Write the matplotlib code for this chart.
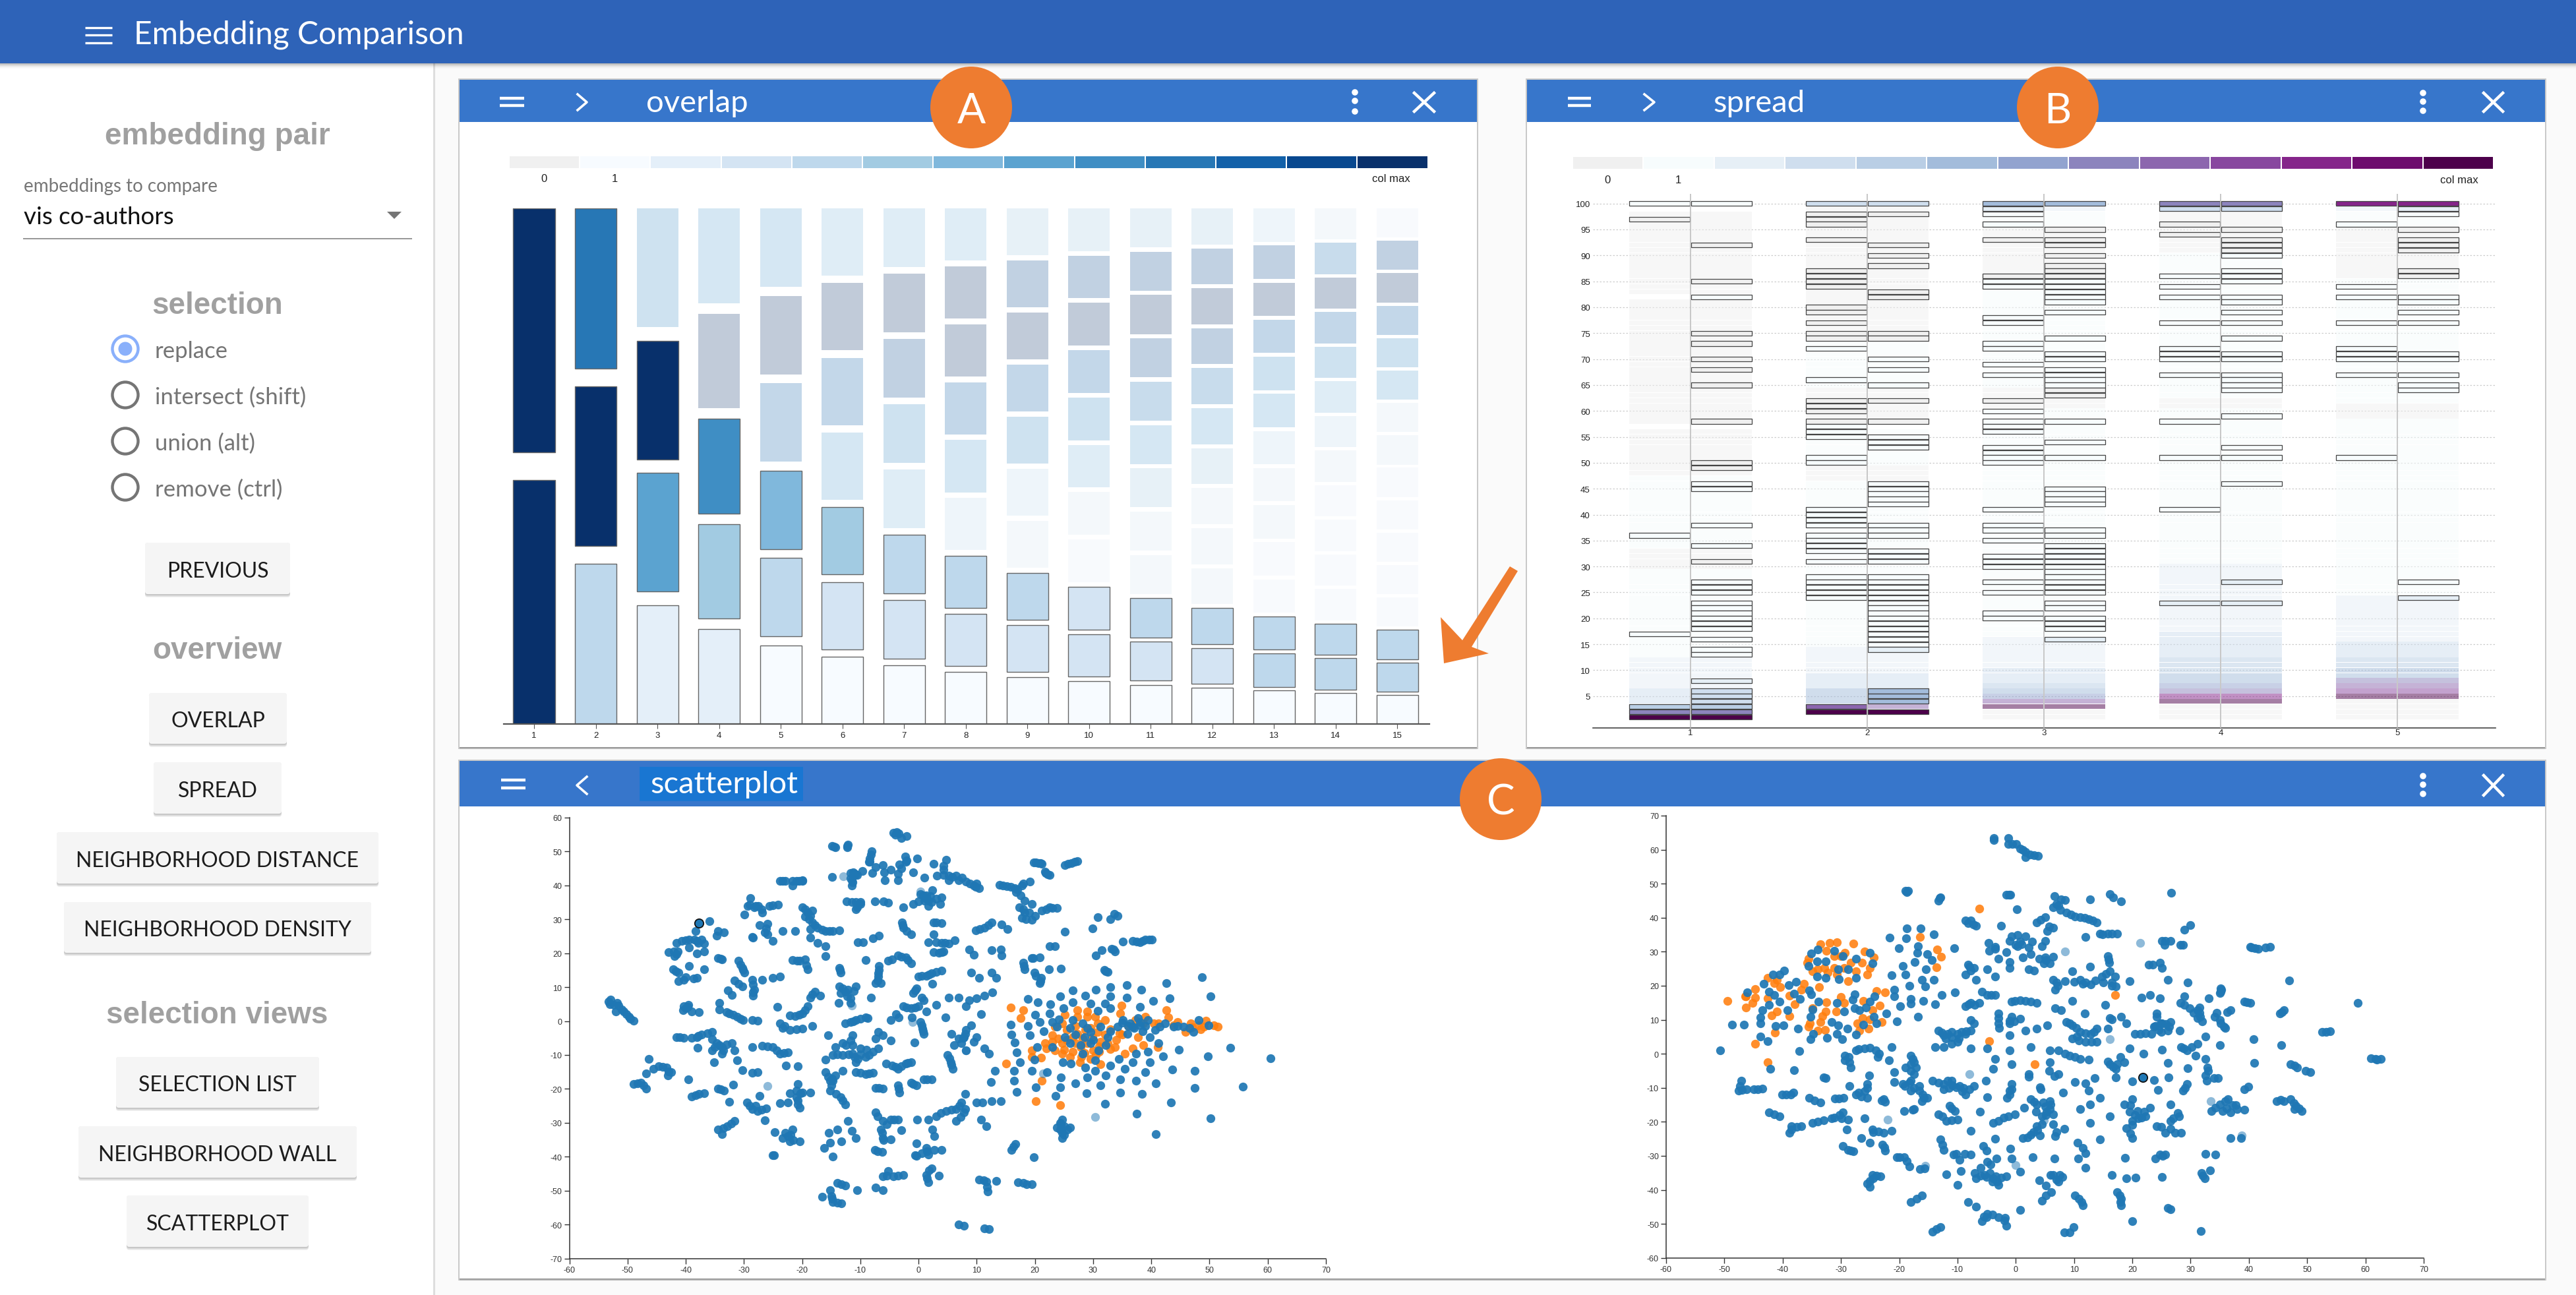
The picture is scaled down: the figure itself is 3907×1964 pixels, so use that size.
import matplotlib
matplotlib.use("Agg")
import matplotlib.pyplot as plt
from matplotlib.patches import Rectangle, Circle, Polygon, FancyBboxPatch

plt.rcParams['axes.unicode_minus'] = False

W, H = 3907, 1965
UI = 'Lato'
NUM = 'Liberation Sans'

# overlap panel: colour level per bin, bottom bin first, one list per column
overlap_cols = [1, 2, 3, 4, 5, 6, 7, 8, 9, 10, 11, 12, 13, 14, 15]
overlap_levels = [
    [12, 12],
    [4, 12, 9],
    [2, 7, 12, 8],
    [2, 5, 8, 12, 7],
    [1, 4, 6, 10, 12, 7],
    [1, 3, 5, 7, 10, 12, 6],
    [1, 3, 4, 6, 8, 11, 12, 6],
    [1, 3, 4, 4, 7, 10, 12, 12, 6],
    [1, 3, 4, 3, 4, 8, 10, 12, 11, 5],
    [1, 3, 3, 2, 3, 6, 8, 10, 12, 11, 5],
    [1, 3, 4, 3, 3, 5, 7, 9, 11, 12, 11, 5],
    [1, 3, 4, 3, 3, 3, 5, 7, 9, 11, 12, 11, 5],
    [1, 4, 4, 2, 2, 3, 3, 4, 7, 8, 10, 12, 11, 4],
    [1, 4, 4, 2, 2, 2, 2, 3, 4, 6, 8, 10, 12, 9, 3],
    [1, 4, 4, 2, 2, 2, 2, 2, 3, 3, 7, 8, 10, 12, 11, 2],
]
overlap_palette = ['#f0f0f0', '#f7fbff', '#e4eff9', '#d4e4f3', '#bed8ec', '#a2cbe2', '#80b8dc',
                   '#5ba3d0', '#3f8ec4', '#2777b5', '#1361a9', '#08488f', '#08306b']

# spread panel: (first rank, last rank, colour level) bands per column
spread_cols = [1, 2, 3, 4, 5]
spread_bands_1 = [(1, 1, 12), (2, 2, 7), (3, 3, 4), (4, 6, 3), (7, 12, 2), (13, 29, 1), (30, 33, 0), (34, 47, 1),
                  (48, 56, 0), (58, 81, 0), (83, 98, 0), (100, 100, 1)]
spread_bands_2 = [(2, 2, 12), (3, 3, 8), (4, 6, 5), (7, 9, 3), (10, 14, 2), (15, 46, 1), (47, 49, 0), (50, 56, 1),
                  (58, 64, 0), (65, 73, 1), (74, 99, 0), (100, 100, 3)]
spread_bands_3 = [(1, 2, 0), (3, 3, 12), (4, 4, 8), (5, 5, 6), (6, 6, 5), (7, 7, 4), (8, 10, 3), (11, 16, 2),
                  (17, 60, 1), (61, 64, 0), (65, 85, 1), (86, 95, 0), (96, 98, 1), (99, 99, 2), (100, 100, 5)]
spread_bands_4 = [(1, 3, 0), (4, 4, 12), (5, 5, 10), (6, 6, 7), (7, 7, 6), (8, 9, 5), (10, 12, 4), (13, 17, 3),
                  (18, 30, 2), (31, 60, 1), (61, 62, 0), (63, 90, 1), (91, 98, 0), (99, 99, 3), (100, 100, 7)]
spread_bands_5 = [(1, 4, 0), (5, 5, 12), (6, 6, 9), (7, 7, 8), (8, 8, 7), (9, 10, 5), (11, 12, 4), (13, 15, 3),
                  (16, 24, 2), (25, 58, 1), (59, 61, 0), (62, 85, 1), (86, 95, 0), (96, 98, 1), (99, 99, 2),
                  (100, 100, 10)]
# ranks holding selected points, left and right half of each column
spread_left_1 = [100, 97, 36, 17, 3, 2, 1]
spread_right_1 = [100, 92, 85, 82, 75, 73, 70, 68, 65, 58, 50, 49, 46, 45, 38, 34, 31, 27, 26, 25, 23, 22, 21, 20, 19,
                  18, 16, 14, 13, 8, 6, 5, 4, 3, 2, 1]
spread_left_2 = [100, 98, 97, 96, 93, 87, 86, 85, 84, 80, 79, 77, 75, 74, 72, 66, 62, 61, 60, 58, 57, 56, 55, 51, 50,
                 41, 40, 39, 38, 36, 35, 34, 33, 31, 28, 27, 26, 25, 24, 3, 2]
spread_right_2 = [100, 98, 92, 90, 88, 83, 82, 75, 74, 70, 68, 65, 62, 58, 55, 54, 53, 46, 45, 44, 43, 42, 38, 37, 36,
                  33, 32, 31, 28, 27, 26, 25, 24, 23, 22, 21, 20, 19, 18, 17, 16, 15, 14, 6, 5, 4, 2]
spread_left_3 = [100, 99, 98, 96, 93, 86, 85, 84, 78, 77, 73, 72, 69, 67, 62, 60, 58, 57, 56, 53, 52, 51, 50, 41, 38,
                 37, 35, 32, 31, 30, 27, 25, 21, 20]
spread_right_3 = [100, 95, 93, 92, 90, 88, 87, 86, 85, 84, 83, 82, 81, 79, 74, 71, 70, 68, 67, 66, 65, 64, 63, 58, 54,
                  51, 45, 44, 43, 42, 37, 36, 34, 33, 32, 31, 30, 29, 28, 27, 26, 25, 23, 22, 20, 19, 18, 16]
spread_left_4 = [100, 99, 96, 94, 86, 84, 82, 77, 72, 71, 70, 67, 58, 51, 41, 23]
spread_right_4 = [100, 99, 95, 93, 92, 91, 90, 87, 86, 85, 82, 81, 79, 77, 74, 71, 70, 67, 66, 65, 64, 59, 53, 51, 46,
                  27, 23]
spread_left_5 = [100, 96, 84, 82, 77, 72, 71, 70, 67, 51]
spread_right_5 = [100, 99, 98, 95, 93, 92, 91, 87, 86, 82, 81, 79, 77, 71, 70, 67, 65, 64, 27, 24]
spread_palette = ['#f0f0f0', '#f7fcfd', '#e6eff6', '#cfdeee', '#b9cee5', '#a3bcdb', '#92a3cf', '#8c84bd',
                  '#8c66ae', '#88479f', '#85258a', '#6e0c6e', '#4d004b']

# scatter left
left_blue_x = [-4.3, -3.7, -3, -2, -14.9, -14.5, -12.1, -12.3, -8.1, -8.4, -8.5, -2.3, -2, -.2, 2.6, 4.8, 4.3, 4.3, 19.8, 20.6, 21.2, 21.7, 22.5, 25.1, 26.3, 27.3,
               -14.9, -11.7, -11, -10.6, -11.7, -11.5, -9.6, -7.9, -7.4, -6.1, -5.9, -4.8, -3.3, -3, -3.5, -5.8, -3.5, -.9, -2.2,
               1, 3.2, 4.3, 5.2, 6.5, 5.2, 6.9, 8.2, 9.5, 10.4, 10, -23.8, -22.9, -21.7, -20.5, -19.9, -21.7,
               13.9, 15.2, 16.5, 17.8, 19.1, 16.7, 18.2, -28.9, -29.4, -28.2, -27.5, -26.9, -29.9, -25.6, -24.1,
               -12.4, -10.8, -10, -10.8, -10, -7.5, -6, -5.2, -2.6, -.9, 0, .3, 1.3, 2.4, 1.7, 1.7, 3.9, 3.7,
               17.3, 18.2, 19.5, 21.2, 22.5, 23.8, 17.8, 19.5, 30.8, 32.9, 33.6, 34.2, 29.9, 25.1,
               -19.9, -19.1, -18.2, -19.5, -18.2, -17.3, -16, -14.7, -13.6, -18.6,
               -35.9, -34.4, -33.4, -34.7, -38.3, -38.1, -39.4, -36.8, -37.3, -40.7, -41.6, -41.4, -42.9, -41.9, -39.4, -38.1, -36.8,
               -28.6, -26, -26.4, -27.3, -25, -23.4, -21.2, -18.6, -16, -17.3, -16, -34.4, -33.8, -30.9, -30.3, -29.9,
               -42.2, -41.2, -39.4, -36.8, -38.1, -40.3, -41.2, -21.7, -20.4, -19.5, -19.1, -13.6, -13.4,
               -9.1, -5.2, -3.5, -2.2, -1.3, -6.8, -6.9, -6.5, -7.4, -10.4, -9.5, -7.8, -6.8, -2.9, -2.6, -1.3,
               2.6, 3.9, 2.6, 1.7, 3.9, 5.2, 6.2, 3.5, 4.3, 2.6, 9.8, 11.3, 12.6, 14.3, 15.3, 8.7, 9.5, 12.6, 14.1, 14.3,
               22.5, 23.4, 19.5, 20.8, 18, 18.2, 22.4, 24.5, 19.9, 21.1, 20.8,
               30.5, 31.5, 33.2, 33.8, 35.1, 36.8, 38.1, 39, 40.1, 31.9, 32.5, 0, 1.3, 2.2, 3.9, 2.4, 9.1, 10.4, 12.6, 13.4,
               -31.6, -30.3, -28.6, -28.2, -28.4, -26.9, -25.1, -23.8, -32.8, -32.1, -34.2, -34.2,
               -13.6, -13.4, -12.1, -10.8, -11.7, -13.7, -8.2, -11.7, -18.6, -17.8, -16.9, -19.1, -19.9, -21.2, -22.1,
               -24.3, -28.6, -27.7, -30.1, -31.2, -32.5, -40.3, -39.6, -40.5, -39, -37.7,
               -53.3, -52.9, -51.6, -50.7, -49.8, -49, -52, -.4, -.9, .9, -2.6, -1.3, 0, 3, -3.9, -4.8, -1.1, 1.3,
               5.2, 6.9, 8.7, 10, 11.3, 12.7, 8.2, 4.6, 10.8, -8.7, -10.8, -12.6, -11.7, -9.1, .3, .7, .9,
               -23.8, -23.4, -22.1, -19.9, -18.2, -15.5, -41.6, -40.3, -38.1, -37.3, -35.5, -35.5, -38,
               -34.7, -33.8, -32.1, -31.6, -35.5, -33.8, -35.1, -31.2, -28.6, -26.9, -25, -23.8, -22.5, -22.8, -20.8, -30.3, -28.6, -27.7,
               -11.3, -11.7, -14.3, -13, -11.3, -7.4, -6.1, -4.8, -6.9, -14.7, -13, -11.3, -10.4, -9.1, -7.8, -6.9, -10.8, -16, -.7,
               5.6, 6.9, 8.2, 9.1, 7.8, 6.1, 7.4, 9.5, 10, 8.2, 11.3, 12.1, 5, 5.5, 5.9,
               -5.6, -3.5, -2.2, -1.3, -4.6, -16, -15.2, -14.3, -13, -10.8, -9.1, -7.8,
               -7.4, -6.1, -3.5, -3.3, -1.3, -.4, .9, 2.2, -20.8, -22.1, -19.9, -18.6, -20.8, -20.4, -23.8, -22.5,
               -15.2, -13.4, -12.6, -14.7, -46.4, -45.5, -44.6, -46.8, -43.3, -42.5, -43.1, -49, -47.7, -46.8,
               -39.6, -39, -37.7, -36.8, -34.4, -33.4, -31.8, -32.5, -27.3, -29.5, -28.6, -27.7, -26.2, -26.4,
               -34.4, -32.9, -31.6, -33.8, -24.7, -23.4, -21.7, -22.1, -20.4, -25.1,
               -15.4, -13.9, -12.1, -11.5, -10.8, -15.2, -16.2, -14.7, -13.3,
               -7.4, -6.1, -4.8, -3.5, -6.5, -6.1, -4.8, -3,
               -.2, 1.7, 3, 4.8, 6.5, 7.4, 6.5, 7.8, 10, 12.6, 14.1, 8, 10.8, 11.7, 2.4, 2.7,
               -.3, 1.3, 1.7, 3.9, -.3, -7.5, -6.2, 16, 16.6, 19.8,
               -6.1, -4.3, -2.6, -5.2, 1.3, 1.7, 2.2, 3.5, -7.4, -6.1,
               -13.9, -12.6, -15.2, -14.7, -16.5, -13.3, -10.6, 10.4, 11.7, 11.9, 13.4, 17.1, 18.6, 19.5,
               6.9, 7.8, 11.3, 12.1,
               13.1, 12.5, 16.4, 16.4, 16.9, 20.2, 23.6, 24.4, 24.5, 22.1, 19.5, 26.9, 28.9, 29, 31.2, 32.2, 32, 34.6, 34.6, 35.4,
               37.4, 38.4, 40.8, 39, 39.7, 43.6, 42, 44.7, 47.4, 47.4, 49.7, 53.6, 55.7, 60.5, 50.2, 43.4, 37.5, 40.8,
               24.3, 24.7, 23.8, 26, 24.7, 24.7, 25.6,
               48.7, 42.6, 50.2, 43.2, 40.3, 38.3, 35.8, 32.9, 30.5, 26.5, 24.3, 20.5, 18.8, 22.7, 26.5, 28.6, 29.5, 32.9, 35.8, 38.1,
               32.1, 32.9, 30.8, 24.9, 22.5, 20, 15.8, 18.8, 20.8, 23, 24.1, 16, 19.1, 16.5, 20.4, 16.9, 17.4, 19.9, 21.5,
               35.1, 36.4, 37.7, 38.1, 39.4, 40.7, 42.4, 43.8, 45.5, 47.2, 48.1, 49.8,
               23.8, 25.1, 26.5, 28.2, 29.5, 29.5, 31.2, 32.5, 34.2, 35.9, 36.8, 32.2, 30.9, 27.9, 26, 23, 24.8, 26.2, 28.6, 30.3,
               32.9, 34.4, 36.8, 37.4, 39.4, 39.7, 41.2, 30.3, 28.2]
left_blue_y = [55.4, 55.6, 54, 54.6, 51.7, 51.4, 52, 51.3, 50, 47.9, 46.9, 48.4, 47.4, 47.9, 46.3, 47.6, 45.7, 44.7, 46.8, 46.6, 46.4, 44, 43, 46, 46.6, 47.2,
               42.5, 43.6, 43.5, 43, 42, 40, 44.3, 43.6, 45.4, 45.9, 43.9, 44.6, 46.1, 44.9, 43.5, 41.5, 41.5, 43.9, 46.9,
               42.2, 42.8, 43, 42.8, 42.8, 41.5, 41.5, 41.2, 40, 39.2, 40.5, 41.3, 41.3, 41.3, 41.3, 41.5, 40,
               40.2, 39.7, 39.2, 40, 41.2, 38, 35.5, 36.2, 34, 33.6, 34, 32, 31.3, 34, 34.4,
               35.2, 35, 35, 33, 34.5, 35.3, 35.2, 34.8, 33.5, 34.5, 35.2, 37.5, 37, 38.5, 35.5, 34, 36.5, 34.5,
               33.5, 32, 34.5, 32.5, 33.5, 33.3, 30.5, 29.8, 30.6, 30.1, 31.5, 31, 27.4, 26.4,
               33.5, 32, 32.5, 30.9, 29, 27.6, 26.6, 26.6, 26.8, 27.1,
               29.4, 26.6, 26.1, 25.1, 26.6, 23.6, 24.1, 22.9, 24.1, 23.6, 23.1, 20.6, 20.4, 19.2, 21.6, 19.9, 20.6,
               24.8, 28.6, 26.1, 28.3, 23.6, 26.6, 26.6, 24.6, 19.1, 23.1, 22.1, 18.5, 18.2, 17.7, 15.7, 14.2,
               15.2, 14.2, 16.2, 15.2, 12.7, 12.2, 11.7, 18, 17.7, 18.2, 15.2, 15.7, 14.2,
               18, 17.7, 19.3, 18.7, 17, 16.2, 13.2, 11.2, 11.2, 23.3, 23.3, 24.4, 25.1, 29.1, 27.6, 25.6,
               29.1, 28.8, 25.6, 23.3, 23.1, 22.8, 23.8, 20.1, 20.6, 20.3, 26.8, 27.6, 29.1, 28.4, 27.1, 21.1, 19.6, 20.8, 21.1, 19.4,
               22.1, 22.1, 18.5, 18.7, 17.2, 15.2, 15.2, 15.5, 14.2, 12.7, 11.2,
               19.3, 20.9, 21.3, 20.6, 23.4, 23.6, 23.3, 24.1, 24.1, 15, 14.5, 13.2, 13.4, 14, 14.9, 11, 14.2, 12.7, 14.2, 12.7,
               11.9, 10.2, 12.2, 9.2, 7.5, 12.2, 12.7, 13.2, 9, 7.7, 5.3, 3.5,
               10.2, 8.2, 9.2, 10.2, 6.7, 5.3, 6.9, 5.3, 6.9, 8.7, 7.5, 4.3, 2.3, 1.5, 1.6,
               4.1, .3, .1, .3, 1.3, 2.3, 4.3, 4.8, 3.3, 2.8, 2.6,
               5.8, 6.3, 4.5, 2.8, 1.3, .1, 2.8, 9.7, 8.2, 6.2, 4.3, 3.8, 4.3, 4.8, 2, .3, 1.1, 2.8,
               6.9, 6.9, 6.2, 6.7, 7.4, 8.5, 4.3, 1.1, 2.1, .8, .3, -.7, -.2, 1.1, -.2, -2.2, -3.7,
               -.7, -2, -2.7, -2.2, -1.4, -4.2, -4.7, -5, -4.7, -3.9, -3.2, -5.4, -7.8,
               -6.6, -7.6, -6.6, -8.6, -8.6, -9.6, -12.1, -11.6, -7.6, -7.3, -7.6, -9.6, -9.3, -13.1, -13.3, -14.4, -15.3, -15.1,
               -4.2, -5.7, -7.6, -6.6, -7.1, -5.2, -4.2, -5.7, -3.2, -10.1, -10.1, -9.6, -11.1, -10.6, -9.1, -8.1, -12.1, -11.4, -6.3,
               -3.7, -5.2, -2.7, -1.2, -4.7, -7.1, -6.6, -6.2, -4.7, -8.6, -8.1, -9.6, -10.1, -12.1, -14.1,
               -12.6, -14.1, -12.6, -12.1, -13.1, -15.1, -17.6, -16.1, -14.6, -15.1, -15.6, -15.3,
               -19.7, -20, -19, -21, -18.1, -19, -17.1, -17.1, -18.6, -21.2, -21, -21, -23.5, -25.5, -24.2, -24,
               -20.5, -22.5, -24.5, -17.6, -11.1, -14.1, -13.4, -15.4, -13.6, -15.1, -16.1, -18.6, -18.1, -20,
               -17.1, -22.2, -21.5, -21.2, -20, -20.5, -18.8, -23.8, -22, -24, -26, -26.5, -25.8, -29.2,
               -31.9, -31, -29.5, -33.4, -32.7, -34.4, -31.9, -35.4, -35.4, -39.6,
               -32.9, -31.9, -29.5, -32.4, -34.4, -35.9, -37.4, -39.9, -35.4,
               -27, -29.5, -29, -29, -31.9, -34.4, -34.9, -32.1,
               -29, -29, -28, -26.5, -26, -24, -29.5, -27, -24, -23.7, -23.7, -21.5, -29, -31, -31.9, -33.9,
               -36.1, -37.4, -39.4, -37.9, -39.7, -37.9, -38.6, -37.9, -36.2, -40.1,
               -45.8, -45.8, -45.3, -44.3, -45.3, -47.5, -43.4, -45.6, -49, -49.8,
               -47.8, -48.5, -49.8, -53.3, -51.8, -53.8, -49.8, -46.8, -47.3, -50.3, -47.1, -47.5, -48, -48.1,
               -59.9, -60.4, -61.2, -61.4,
               -14.6, -17.9, -14.6, -17.6, -20.9, -19.6, -22.1, -19.6, -16.6, -15.1, -14.6, -18.3, -21.2, -16.6, -19, -16.1, -24.3, -21, -17.2, -14.1,
               -17.6, -21.4, -18.3, -15.1, -12.1, -14.3, -10.4, -8.4, -14.7, -19.7, -10.4, -7.8, -19.3, -11, -28.7, -24, -27.3, -33.4,
               -30, -29, -31.4, -31.4, -32.9, -34.4, -31.9,
               13, 11.2, 7.2, 6.7, 6, 9.2, 10.6, 10, 9.2, 9.1, 7.2, 5.5, 6.5, 5, 5.5, 7.4, 5.2, 7.2, 6.9, 4.2,
               5.2, 3.7, 3, 3.7, 2.3, 1.8, -1, -1.5, -.2, -.2, .5, -3.9, -4.2, -6.3, -7.6, -9.3, -12.1, -11.3, -3.1,
               .3, -.7, .8, -1.2, .3, -2.7, -.7, -1.7, -1.7, -3.2, .3, -1.2,
               -1.7, -4.7, .3, -.7, -3.2, -6.6, -1.7, -4.7, -1.7, -3.7, -1.7, -7.1, -8.6, -7.1, -6.6, -7.6, -12.1, -12.6, -13.6, -14.6,
               -13.1, -11.1, -12.1, -9.6, -9.1, -4.7, -6.6, -11.6, -9.6]
# second reading along the dense chains of the left plot
left_chain_x = [-52.4, -51, -50.2, -49.5, -53, -51.8, -14.3, -12.2, -4, -3.4, -8.2, -8.4, 20.2, 21, 21.9, 22.2, 25.7, 26.8,
                -11.3, -11.5, -10.8, -11.2, 5.8, 7.5, 8.8, 9.8, -23.4, -21, -20, 14.5, 15.8, 17, 17.5, 18, -29, -28, -27, -25,
                -11.5, -10.4, -10.6, .8, 1, 1.4, 2, 2.2, 3, 18, 19, 20, 22, 23, 18.5, -19.5, -18.6, -18.8, -17.8, -16.6, -15.3,
                -38.5, -37.8, -40, -42, -41.6, -26.2, -26, -28.4, -34, -30.6, -30.1, -41.7, -40, -38.7, -20.9, -19.3,
                -13.5, -6.8, -6.9, -7, -3, -4.5, -1.8, -2.7, -2, 3, 3, 4.5, 3.9, 10.5, 12, 19.7, 18.1, 21, 20.2,
                33.5, 37.5, 38.5, 39.6, 32.2, .6, 1.8, 3, -30.9, -28.4, -28.4, -13, -12.6, -12.2, -11.1, -18.2, -19.5, -20.5,
                -40, -39.7, -30.6, -31.8, -33, -.6, .6, -2, -.6, -3.4, -10, -11.2, .5, .8, -23, -21,
                -41, -39, -37.8, -36.3, -34.2, -33, -35, -33.5, -26, -24.4, -23.1,
                -14, -12, -10, -8.5, -11, -10, -12.5, -9, 5.3, 5.7, 7.7, 8, -4, -3, -1.8, -15.5, -14.8, -10, -8.5,
                -6.8, -3.4, -.9, 1.5, -21, -20.3, -21, -20.7, -14.2, -13, -15, -47.3, -48.3, -44, -42.9,
                -38.3, -34, -28, -27, -29, -33.6, -32.2, -22.9, -22, -21.5, -22.5, -24.8, -7, -5.5, -6.3, -4.2, -6,
                3.8, 5.6, 7, 8, 7.2, 11, 1.5, 2.7, .5, -.6, -7, -5.5, -3.5, 1.5, 1.8, 16.3,
                11.2, 11.8, 18, -13.3, -15, -14.8, -14, 24.5, 25, 24.3, 25,
                35, 36, 37, 38, 39, 41.5, 44.5, 46.5, 26, 27, 28.5, 30, 29, 33, 38.5]
left_chain_y = [4.8, 3.5, 2, .7, 5, 5.3, 51.2, 51.7, 55, 55.2, 49, 47, 46.7, 46.5, 43.7, 43.3, 46.3, 46.9,
                41, 41.5, 43.3, 43.8, 42.5, 42.2, 40.6, 39.6, 41.3, 41.3, 41.4, 40, 39.5, 38.8, 37, 40.5, 34.3, 34, 33, 34.1,
                35, 34.3, 33.6, 37, 35.5, 36, 36.8, 35, 36, 33, 32, 31, 33, 33.4, 30, 33, 31, 30, 28.3, 27, 26.6,
                24, 23, 23.8, 20.5, 19.8, 27.3, 25.5, 24.6, 18.3, 16.7, 15, 14.7, 13, 12.6, 17.8, 16.5,
                15, 15, 14, 12, 19, 18.2, 18, 28.3, 26.5, 29, 23.3, 23, 20.4, 27.2, 28.3, 18.6, 16.2, 11.8, 13.4,
                21, 23.4, 23.7, 24.1, 14.7, 13.3, 13.7, 14.4, 11, 8.5, 10.7, 9.7, 8.7, 7.2, 8.8, 7.8, 3.2, 1.9,
                3.7, 4.1, .7, 1.8, 2.6, 9, 7, 4, 4, 1.1, .6, -.1, -1.2, -3, -1.4, -2.5,
                -4.8, -4.9, -4.3, -3.6, -7.1, -6.9, -7.6, -8.6, -7.5, -8.6, -9.5,
                -9.8, -9.9, -9.9, -10, -10.5, -8, -7, -8.5, -11, -13, -5, -3.7, -13.5, -13.4, -12.4, -16.5, -17, -15.3, -15.5,
                -19.8, -20, -18.5, -17.1, -20.5, -21.2, -22.5, -24.5, -21.5, -23.5, -19, -19, -18.4, -13.5, -14.8,
                -21.8, -20.2, -25, -26.2, -25, -31.5, -30.3, -33, -33.5, -35, -34, -39.6, -28, -30.5, -33, -29, -35,
                -27.2, -26.2, -25, -26, -28.3, -24, -38.3, -38, -39, -39.5, -38.3, -45.5, -45.5, -46.3, -44, -37,
                -47, -48.8, -47.8, -48.1, -51.5, -52.3, -53.6, -30.5, -31, -32, -33.5,
                -.5, -1.5, -2, -.3, -1.5, -1.7, -1.5, -2, -2, -4, -4.8, -5.5, -2, -3, -3]
left_orange_x = [15.9, 18, 17.5, 15, 21.2, 20.1, 24.4, 19.5, 19.5, 21.1, 21.7, 23, 23.4, 24.7, 25.1, 27.3, 27.3, 29, 29, 30.3, 32, 34.6, 34.9, 37.3, 39,
                 42.6, 42.9, 41.2, 43.8, 45.9, 46.8, 49.4, 49, 51.4, 50.7, 48.1, 41.1, 38.6, 36.8, 35.4, 31.2, 27.7, 29.5, 23.4, 24.7, 26,
                 26.9, 28.2, 29.9, 31.2, 32.5, 33.8, 25.5, 27.3, 28.6, 30.8, 23, 24.7, 37.7, 40.4, 38.6, 30.8, 26.5, 27.9, 30,
                 22, 24, 25, 26.5, 28, 29, 30.5, 31, 32, 33, 34, 35, 25.5, 27, 28.5, 29.5, 31, 33, 44.5, 47, 48.5, 36, 34.5]
left_orange_y = [3.9, 3.3, .8, -12.6, -17.5, -23.6, -24.8, -8.6, -10.6, -10.8, -6.6, -4.1, -1.7, -.7, 1.8, 3.3, 1.3, 2.8, 1.3, 1.3, .3, 2.3, 4.5, .3, 1.3,
                 3.3, 1.1, -.7, -1.2, -3.2, -.7, .1, -1.7, -1.7, -1.2, -1.2, -7.6, -7.1, -8.1, -9.6, -12.8, -12.1, -11.1, -8.6, -9.6, -10.6,
                 -6.6, -5.2, -4.7, -6.2, -6.6, -7.6, -2.7, -3.7, -2.7, -3.2, -6.2, -6.6, -4.7, -.7, -.7, -.7, -4.7, -7.6, -8.6,
                 -8, -5.2, -8.5, -9, -10.5, -6.5, -10, -9, -4, -8.2, -5.5, -4, -5.5, -1.5, -9.5, -2, -7.4, -2.4, -.2, -1.8, -2.4, -1.5, -3.6]
left_faint_x = [-26, 30.3, 8.2, -1, .3, -12.9, 21.4, -11.5, 4.1]
left_faint_y = [-19.2, -28.2, -8.6, -.2, 38.2, 42.6, -15.5, 4.5, 20.3]
left_marked = [-37.7, 28.8]

# scatter right
right_blue_x = [-3.8, -1.3, -1.3, .1, .8, 1.7, 1.7, 3.1, 3.8, -18.9, -18.5, -12.9, -13.3, -1.6, -.9, .2, 6.6, 7.8, 8.4, 12.8, 16.2, 16.7, 18.1, 26.7,
                6.4, 7.3, 8.7, 11.1, 12.5, 13.9, 5, 3.6, 6.4, 5.4, -8.6, -7.7, -6.8, -2.5,
                -18.7, -16.3, -14.1, -21.6, -18.8, -20.1, -16.8, -16.9, -15.2, -14.4, -10.6, -19.4, -17.3, -15.4, -21.3, -18.9, -16.1, -14.1, -18.2, -15.5, -20.8, -20.8, -18, -15.9, -19.8, -18, -13.8, -12.7, -10.5, -16.8, -20.4,
                -46.1, -48.7, -46.7, -43.8, -43.8, -41.2, -39.9, -42.6, -43.8, -50.7, -37.2, -42.1, -38, -43.5, -42.4, -40.5, -39.2, -37, -37.4, -35.2, -34.8, -32.4, -29.8, -30.7, -27.4, -28.9, -26.2, -23.9, -22.2, -24.4, -26.9, -27.6, -29.4, -31.6, -30.5, -33.9, -34.9, -35.2, -30.7, -28, -27.6, -25, -25.7, -24.3, -42.4, -41.5, -38, -39, -37.7, -40.5, -41.7, -39.7, -43.3, -35.4, -35.1,
                -35.1, -34, -34.1, -32.6, -31.1, -29.7, -27.4, -25, -24.6, -35.6, -34.1, -32.6, -30.5, -28.8, -27.4, -30.4,
                -4.7, -4.6, -3.5, -3, -1.6, -1.1, -1.1, -.7, .3, 1.7, .3, 2.2, 1.2, 2.6, 4, 5, 6.4, 4.5, 5, 5.9, 4.8, -1.1, 2.2, 3.1,
                -8.2, -7.2, -8.6, -6.8, -4.9, -3.5, 12, 14.4, 15.8, 17.4, 25.1, 26.5, 28.2, 22.8, 24.7, 25.1, 28.9, 30, 40.2, 41.6, 43.6, 46.9, 58.7, 52.6, 53.9, 62.7, 61.7, 61,
                45.3, 46, 45.6, 40.8, 40.9, 47.2, 48.3, 50.5, 39.2, 40.2,
                26.1, 29.5, 35.3, 35, 33.1, 28.9, 31.2, 34.1, 36.9, 35, 35.9, 31.7, 29.8, 31.2,
                25.1, 26.5, 23.7, 21.4, 23.3, 26.1, 24.2, 19, 20.4, 18.1, 16.5, 28.1, 28.4, 29.4, 31.2, 32.6, 35, 32.6, 29.5, 26.1, 21.9, 19.5, 25.1,
                9.7, 8.7, 11.1, 12.9, 13.9, 9.7, 12, 13.9, 15.8, 7.8, 6.7, 9.7, 15.3, 16.2, 11.8,
                6.7, 6.4, 8.4, 11.1, 12.9, 14.8, 16.2, 17.2, 19.5, 12.8, 9.7, 15.8, 16, 21.6, 23.1, 24.7,
                .8, 2.6, 3.6, -.7, -3.5, -4.9, -5.8, -7.7, -8.6, -6.3, -3, -3, -7.7, -7.2, -1.1, -.7, .8, 1.7, -1.1, 3.6, 5.4,
                -13.3, -12.4, -11, -8.6, -7.7, -12.4, -10, -13.8, -7.7, -4.9, -1.1, -3.5, -3.9, -.7,
                2.6, 5.9, 9.2, 11.1, 5.9, 7.3, 12.5, 16.2, 18.6, 17.2, 2.2, 4.1, 13.5, 17.2, 20, 23.7, 24.4, 26.2,
                32.9, 32.6, 34.7, 29.4, 28.7, 10.1, 12, 8.1, 12.5, 39.2, 39.9, 44.8, 47.2, 48.1, 49.1,
                36.4, 35, 33.6, 36.9, 39.2, 37.8,
                -29.3, -29.3, -28.3, -27.4, -25, -23.5, -21.3, -21.8, -20.8, -25.2, -33, -32.6,
                -47.1, -47.6, -46.2, -44.3, -40.1, -38.6, -35.4, -33.5, -30.4, -28.5, -27.4, -25.5, -25.5, -22.7, -20.8,
                -18, -17.5, -18.9, -17.1, -18, -19.4, -18, -16.6, -15.2, -19.1, -17.5, -16.1,
                -14.3, -12.4, -11, -12.4, -9.6, -8.6, -7.2, -5.1, -4.9, -.7, -1.1, 2.6, 3.6, 5.9, 5.9, 6.4, 4.5, 1.4,
                11.1, 12.7, 14.4, 16.2, 12.8, 18.6, 20, 20, 22.3, 20.9, 19, 20, 23.1, 26.5, 28, 26.5, 24.2, 25.6, 28.4, 36.9, 38.7,
                -3.9, -2.1, -.2, -11.4, -10.5, -13.3, -11.9, -10, -7.7, -6.1,
                -34.9, -33, -29.7, -31.1, -28.8, -26, -38.5, -36.8, -40.5, -42.4, -29, -38.8,
                -24.6, -22.7, -21.3, -26.5, -22.9, -22.4, -29.7, -27.9, -28.8, -25,
                -20.4, -19.1, -18.3, -15.7, -11.9, -12.9, -12.4, -10.7, -9.6, -9.4, -7.7, -5.6,
                -3.5, -.9, 2.9, 6.6, 10.7, 12, 6.4, 7.5, -5.3, -3.9, -3, -1.6, .8, -6.8, -10, -4.9, -3.3, -.7,
                4, 6.1, 4.5, 7.3, 10.1, 11.5, 16.5, 19, 20.6, 25.1, 31.9, 32.4, 33.3, 32.5, 34.2, 25.6, 24.7, 24, 18.7,
                17.4, 18.1, 18.1, 26.1, 26.5, 20, 31.8, 8.3, 9.2, 9.9, -4.9, -5.8, -3, -1.6, .8, -8.2, -6.8,
                -14.3, -12.9, -16.1, -18, -25, -25.5, -24.6, -23.2, 10.6, 11.5, 12, 14.4,
                6.4, 8.3, 6.8, 3.6, 2.6, 1.2, 4.5]
right_blue_y = [63.4, 63.4, 61.6, 61.6, 60.4, 59.4, 57.7, 58.4, 58.2, 48, 48, 46, 45, 46.8, 46.8, 42.4, 46.3, 45.3, 45.1, 45.3, 47, 46, 44.8, 47.3,
                43.1, 43.6, 41.6, 40.1, 39.6, 38.6, 40.1, 38.6, 37.1, 36.1, 39.1, 39.1, 37.6, 37.6,
                36.9, 36.8, 35.1, 34.2, 33.9, 31, 31.7, 29.7, 29.2, 27.5, 31, 25.9, 27, 24.8, 23, 23.3, 21.8, 21.8, 20, 19.8, 18.8, 16.8, 16.1, 15.6, 13.9, 14.8, 14.5, 17.3, 18.1, 10.9, 9.6,
                18, 8.6, 8.5, 10.7, 8.9, 8.1, 8.4, 3.7, 5, 1, .8, -4.5, -4.8, 12.9, 14.4, 15.3, 12.9, 16.2, 7.4, 4.2, 5.9, 4.7, 4.2, 5.9, 5.7, 7.4, 8.5, 8.9, 11.9, 10.9, 12.9, 13.4, 12.4, 9.4, 8.4, 15.3, 13, 10.9, 14.9, 15.9, 17.5, 15.3, 13.5, 16.8, 18.2, 17.2, 17.7, 20.2, 21.2, 23.2, 23.2, 24.5, 20.6, 18.7, 17.5,
                29.5, 30.7, 27.2, 27.2, 30.2, 28.7, 27.9, 29.7, 26.5, 25.9, 22.8, 22.3, 24.8, 24.8, 22.3, 22,
                32.6, 30.3, 30.8, 27.9, 29.9, 26.9, 33.1, 34.5, 35, 34.5, 31.6, 31.2, 28.4, 29.3, 27.9, 28.4, 28.6, 31.7, 33.1, 26.5, 26.5, 25.2, 24.9, 24.5,
                26.2, 25.2, 23.2, 21.8, 24.8, 22.8, 34.4, 35.4, 35.4, 35.4, 33.2, 33.2, 32, 26.2, 26.7, 25.2, 36.4, 37.8, 31.5, 30.9, 31.5, 21.6, 14.9, 6.4, 6.7, -1.5, -1.5, -1.3,
                11.9, 12.9, 2.5, 4.2, -2.7, -3, -4, -5.4, 15.3, 14.9,
                21.8, 21, 18.8, 17.8, 16.3, 16.8, 12.9, 10.9, 12.9, 9.9, 7.6, 10.9, 13.4, 10.4,
                8.9, 9.4, 7.9, 5.9, 5.9, 6.9, 11.9, 8.9, 5.9, 10.9, 10.2, 6.9, 2, 1, 3, 5, 2.5, -1.5, -4.2, -2.7, 0, 1.5, 1.2,
                8.4, 9.4, 6.4, 5.9, 7.4, 4.5, 3.5, 3.5, 7.4, 12.9, 13.4, 15.6, 14.4, 10.4, 11.9,
                18.8, 21.8, 21.3, 21.8, 20.3, 22.8, 24.3, 19.8, 21.3, 25.7, 24.3, 28.7, 26.7, 16.6, 17.3, 16.3,
                15.8, 15.3, 14.9, 15.3, 17.3, 17.3, 18.3, 14.9, 13.9, 14.9, 11.9, 8.9, 9.9, 8.9, 8.9, 10.8, 10.3, 6.9, 5.4, 7.4, 8.4,
                6.9, 5.4, 6.4, 5.9, 6.9, 2, 3.5, 2, 1.5, 1.5, 1, -1.5, -4.5, -3,
                2, 1, -.5, -1.5, -2.5, -5.9, -1.8, -3, -2.5, -4.5, -5.9, -9.9, -7.1, -6.9, -8.1, -7.7, -10.7, -6.9,
                -4, -6.4, -7.1, -8.9, -10.9, -8.4, -8.6, -11.4, -10.9, -10.4, -9.7, -13.9, -13.4, -15.3, -16.8,
                -13.4, -14.9, -16.8, -17.3, -16.5, -15,
                -.5, -2, -4, 1, 1.8, 0, 2, -2, -5.4, -6.4, -6.9, -7.1,
                -7.9, -10.9, -10.4, -10.4, -11.9, -11.9, -12.9, -14.4, -13.1, -9.4, -11.9, -8.9, -12.9, -13.4, -8.4,
                -.5, -2.5, -4, -4, -7.9, -8.9, -10.9, -10.9, -12.9, -16.8, -16.3, -13.9,
                -7.9, -8.9, -7.9, -10.4, -9.4, -11.9, -9.4, -7.9, -12.7, -8.9, -11.9, -13.4, -14.9, -13.9, -16.3, -17.8, -18.3, -15.8,
                -16.3, -14.9, -12.9, -18.3, -20.3, -14.9, -13.4, -19.8, -18.3, -16.8, -21.8, -24.8, -15.8, -14.9, -18.3, -19.8, -21.3, -23.3, -23.3, -24.8, -24.8,
                -20.3, -18.8, -17.8, -15.3, -16.8, -17.8, -19.8, -19.3, -22.6, -17,
                -20.3, -19.6, -17.3, -18.8, -19.3, -19, -21.3, -21.3, -18.3, -17.3, -22.3, -23.3,
                -22.3, -23.3, -22.6, -24.8, -26.7, -28.5, -27.2, -28.7, -28.2, -26.2,
                -30.4, -30.4, -33.2, -33.7, -35.4, -25.2, -28.2, -29.7, -31.2, -34.5, -29.7, -27.2,
                -25, -27.9, -30.4, -30.7, -30.7, -33.5, -35.6, -35.6, -35.6, -36.6, -38.6, -36.1, -34.7, -36.6, -38.6, -31.7, -30.7, -30.7,
                -37.1, -40.6, -43.1, -37.6, -41.6, -44.6, -35.6, -36.6, -36.4, -36.3, -35.1, -36.6, -34.2, -29.5, -29.7, -29.7, -29.7, -30.7, -30.5,
                -40.6, -42.6, -44.6, -45.3, -45.7, -49.3, -52.1, -52.5, -52.5, -51, -47, -49.3, -48, -50.5, -46, -43.6, -45,
                -52.3, -51, -41.6, -43.6, -39.1, -38.1, -35.6, -36.1, -26.2, -27.7, -29.2, -25.2,
                -20.8, -22, -24.2, -21.3, -23.8, -24.8, -20.8]
# second reading along the dense chains of the right plot
right_chain_x = [-3.8, -.6, 1.2, 2.5, -18.7, -13.1, -1.2, 7, 9.5, 10.2, 11.8, 13.2, 7.7, 4.3, 5.7, -8.2, -7.3,
                 14.9, 16.5, 25.7, 25.5, 28.7, 23.5, 41, 42.8, 40.5, 62, 53.2, 45.7, 47.8, 49.8, 39.7,
                 31.5, 31.5, 32, 34.5, 35.2, 35.7, 30.5, 36.3, 35.2, 35.1, 28.2, 28.9,
                 24.8, 25.8, 24.5, 25, 22.3, 24.2, 24, 26.3, 28.8, 30.2, 30.8,
                 9.2, 10.4, 12, 13.4, 10.8, 13, 10.5, 7.2, 7, 12, 13.6, 15.5, 15.9, 15, 16.5, 17, 16.5, 11.5, 10,
                 -.1, 1.7, -4.2, -8.1, -7, -3, -2.9, -1, -.3, -12.7, -11.7, -10, -9.3, -11, -12, -9.8, -11, -8.5,
                 10.1, 7.3, 8.5, 15.8, 17.4, 18, 16.7, 5.7, 6.6, 2.2, 4.3, -.7, -1, -1.5,
                 33, 32.8, 34, 29, 45.5, 46, 47.7, 47.8, 48.6, 36, 34.3, 36.2, 37.2, 35.5, 38,
                 -28.7, -28.5, -27, -26, -24, -23.7, -47.3, -47, -45, -43.5, -39.4, -38.2, -34.5, -31, -29.6,
                 -27, -26, -25.5, -26.5, -23, -22.4, -17.7, -18, -18, -17.5, -18.2, -17.5, -19, -16.5, -16, -15.8, -17.7,
                 -13.3, -11.7, -10.2, -9, -9.2, -8, -11.5, -10.9, 3.1, 4.7, 5, 6, 5.3, 5.2, 3.5,
                 19.7, 19.5, 20.5, 21, 21.6, 20, 19.7, 22, 27, 27.8, 25, 26.5, 27.4, -3, -1.3, -11, -12.6, -11,
                 -34, -31.6, -30.3, -29.9, -37.6, -41.5, -38.5, -23.6, -24.5, -22.5, -28.3, -20, -18.7, -16.4, -12.6, -10.2, -8.8, -5,
                 -5, -4.5, -3.4, -4, -3.2, -2.5, -6, -4.3, -6, -7, 5.2, 5.2, 6, 7, 8, 10.8, 11.3, 17.8, 18,
                 25.2, 32.1, -24.5, -25, -23.9, -17, -5, -4, -2, -5.5, -1.8, -13.6,
                 7, 3, 3.7, 4.2, 2, .8, 0, 1, 2.8, -3.5, 5.2, -7.7, -8]
right_chain_y = [62.8, 61.6, 60, 58.5, 47.5, 45.7, 46.8, 44, 41, 40.4, 39.9, 39.2, 42.3, 39.4, 37.5, 38.5, 38,
                 35.2, 35.4, 33.1, 32, 32, 26.2, 31, 31.2, 31.2, -1.8, 6.5, 12.3, -3.5, -5, 15.1,
                 12, 13.5, 9.5, 12, 9, 8, 12, 12.2, 19.3, 18.2, 15, 14.4,
                 9, 8.7, 7, 6.5, 6, 10.8, 8.2, 7.9, 1.5, 2, -.5,
                 9, 7.5, 6, 6.5, 4, 3.5, 5, 20, 21, 21, 21.5, 23.5, 27.7, 21, 21, 22.8, 20, 20.5, 21.2,
                 15.6, 15.5, 17.3, 14.5, 14.4, 10.5, 7.6, 9.8, 9.5, 6.2, 5.9, 5.9, 6.5, 4.8, 4.5, 4.4, 3, 6.7,
                 -.9, 1, 0, -2.3, -3, -1, -3.8, -5, -6.6, -6.7, -10.5, -10.5, -10.9, -13,
                 -5, -8, -7.1, -10, -13.6, -14, -14.5, -16.2, -16, -14, -15.8, -16, -15, -16.8, -16.2,
                 -1, -2.5, 1.3, 1.6, 1, -1, -9.4, -10.7, -10.4, -10.3, -12, -11.5, -13.7, -13.1, -13,
                 -11.5, -11, -10, -12.5, -13.8, -14.2, -1.5, -3, -5, -6, -8.5, -10, -9.5, -9.5, -12, -13, -16.4,
                 -8.5, -8, -9.8, -10, -11, -10.5, -10, -9.2, -14.2, -14.4, -15.5, -14.8, -17, -18, -17,
                 -15, -17, -18, -19, -18.8, -21, -23.5, -17, -19, -17.5, -21.5, -22, -23.2, -19.7, -18.4, -16, -18.3, -19.5,
                 -20, -18.9, -18, -19, -21.4, -17.8, -22.3, -22.9, -23, -27.5, -28.5, -30.4, -31.5, -33.9, -26.7, -29.5, -29.5, -28.5,
                 -36.3, -35, -36, -37.6, -37.6, -36.4, -35.9, -32.5, -33.5, -35, -38.8, -41.6, -35.7, -37, -36.2, -42.6, -43.5, -41.6, -43.5,
                 -30, -35.8, -36.6, -37.4, -35.8, -42.6, -48, -47.2, -49, -47.8, -48.2, -51.6,
                 -23, -23, -22.5, -24, -24.5, 33, 32, 32.2, 33, 31.5, 27.5, 24.5, 25.7]
right_orange_x = [-49.5, -44.7, -46.3, -44.7, -45.2, -42.6, -41.9, -41, -38.8, -41.3, -44.7, -42.6, -46.3, -46.4, -38.8, -37.9, -36.8, -36.4, -33.8, -41.4, -42.6, -41, -40.4,
                  -32.5, -32.6, -30, -30.8, -29.5, -33.2, -35.6, -35.3, -33.5, -34, -32.7, -27.2, -26.3, -25, -24.6, -23.3, -23.9, -22.4, -23, -26.9, -25.3, -26.2, -34.9,
                  -6.3, -16.4, -13.5, -12.8, -13.6, 17.1, -4.6, 3.3,
                  -35.6, -33.5, -31.9, -30.7, -27.9, -26, -24.4, -31.1, -32.5, -30, -28.3, -26.4, -25, -25.5, -28.8, -30.7, -32.3, -34, -34.9, -31.1, -32.8, -35.8, -27.4, -29.5, -29.3]
right_orange_y = [15.6, 19.1, 16.8, 16.6, 14.9, 16.3, 11.2, 12.4, 11.1, 6.2, 3, -2.5, 13.5, 16.8, 17.1, 14.6, 18.8, 20.6, 19.6, 20.8, 22.3, 21.8, 19.6,
                  15.2, 12.4, 16.7, 12.4, 14.9, 11.1, 7.9, 8.9, 9.4, 6.9, 7.1, 8.9, 10.4, 10.1, 12.9, 14.1, 18.4, 18.1, 9.4, 6.9, 7.4, 15.6, 13.4,
                  42.6, 34.3, 30.7, 28.5, 25.5, 17.3, 3.8, -3.1,
                  27.9, 32.2, 32.5, 32.7, 32.4, 30, 28.3, 28.7, 30.2, 28.7, 26.7, 26.7, 25.2, 23.2, 21.3, 23.2, 23.8, 24.8, 24.3, 25.2, 25.2, 26.7, 24.2, 25.2, 29.7]
right_faint_x = [21.4, 0, 33.5, 4.8, -22, -15.5, 8.5, -8, 38.8, 16.2]
right_faint_y = [32.5, -32.8, -14, -19.5, -19.3, -33, 30, -6, -24, 4.2]
right_marked = [21.8, -7]

sidebar_modes = ['replace', 'intersect (shift)', 'union (alt)', 'remove (ctrl)']
sidebar_buttons = ['PREVIOUS', 'OVERLAP', 'SPREAD', 'NEIGHBORHOOD DISTANCE', 'NEIGHBORHOOD DENSITY',
                   'SELECTION LIST', 'NEIGHBORHOOD WALL', 'SCATTERPLOT']


def px_axes(x0, y0, x1, y1):
    a = fig.add_axes([x0 / W, 1 - y1 / H, (x1 - x0) / W, (y1 - y0) / H])
    a.patch.set_visible(False)
    return a


def rect(a, x0, y0, x1, y1, color, alpha=1, z=1):
    a.add_patch(Rectangle((x0, y0), x1 - x0, y1 - y0, facecolor=color, edgecolor='none', alpha=alpha, zorder=z))


def shadow_below(a, x0, y, x1, n=7, z=2):
    for i in range(n):
        rect(a, x0, y + i, x1, y + i + 1, '#000000', alpha=0.28 * (1 - i / n) ** 2, z=z)


def button(a, x0, y0, x1, y1, label):
    for i in range(6):
        a.add_patch(FancyBboxPatch((x0, y0 + i), x1 - x0, y1 - y0, boxstyle='round,pad=0,rounding_size=4',
                                   facecolor='#000000', edgecolor='none', alpha=0.05, zorder=3))
    a.add_patch(FancyBboxPatch((x0, y0), x1 - x0, y1 - y0, boxstyle='round,pad=0,rounding_size=4',
                               facecolor='#f5f5f5', edgecolor='none', zorder=4))
    a.text((x0 + x1) / 2, (y0 + y1) / 2 + 4, label, family=UI, fontsize=23, color='#1c1c1c', ha='center', va='center', zorder=5)


def menu_icon(a, x0, x1, ys, lw=3.2, z=6):
    for y in ys:
        a.plot([x0, x1], [y, y], color='white', lw=lw, solid_capstyle='butt', zorder=z)


def kebab_x(a, kx, ys, x0, x1, y0, y1):
    for y in ys:
        a.add_patch(Circle((kx, y), 4.8, facecolor='white', edgecolor='none', zorder=6))
    a.plot([x0, x1], [y0, y1], color='white', lw=3.2, zorder=6)
    a.plot([x0, x1], [y1, y0], color='white', lw=3.2, zorder=6)


fig = plt.figure(figsize=(W / 100, H / 100), dpi=100, facecolor='white')
bg = fig.add_axes([0, 0, 1, 1], zorder=0)
bg.set_xlim(0, W)
bg.set_ylim(H, 0)
bg.axis('off')

# page, side bar and top bar
rect(bg, 658, 0, W, H, '#fafafa', z=0)
rect(bg, 657, 0, 660, H, '#dedede', z=1)
rect(bg, 0, 0, W, 97, '#2e63b8', z=8)
shadow_below(bg, 0, 97, W, n=9, z=7)
menu_icon(bg, 129, 170, [43, 54, 66], lw=2.4, z=9)
bg.text(203, 53, 'Embedding Comparison', family=UI, fontsize=34.5, color='white', va='center', zorder=9)

# side bar text
for txt, y in [('embedding pair', 207), ('selection', 464), ('overview', 987), ('selection views', 1540)]:
    bg.text(329.5, y, txt, family=NUM, weight='bold', fontsize=33, color='#a0a0a0', ha='center', va='center')
bg.text(36, 283, 'embeddings to compare', family=UI, fontsize=20, color='#777777', va='center')
bg.text(36, 329, 'vis co-authors', family=UI, fontsize=26.5, color='#111111', va='center')
bg.add_patch(Polygon([(587, 322), (609, 322), (598, 333)], facecolor='#757575', edgecolor='none'))
rect(bg, 35, 362, 625, 364, '#999999')
for i, label in enumerate(sidebar_modes):
    y = 530 + 70 * i
    ring = '#8ab0fb' if i == 0 else '#757575'
    bg.add_patch(Circle((190, y), 19.5, facecolor='white', edgecolor=ring, lw=3.2))
    if i == 0:
        bg.add_patch(Circle((190, y), 10.5, facecolor=ring, edgecolor='none'))
    bg.text(235, y + 3, label, family=UI, fontsize=25, color='#757575', va='center')
button_boxes = [(220, 824, 440, 902), (226, 1052, 435, 1129), (233, 1157, 427, 1235), (86, 1263, 574, 1341),
                (97, 1369, 563, 1446), (176, 1604, 484, 1681), (119, 1709, 541, 1787), (192, 1814, 468, 1892)]
for box, label in zip(button_boxes, sidebar_buttons):
    button(bg, *box, label)

# the three panels
for x0, y0, x1, y1, y2 in [(697, 122, 2240, 186, 1134), (2316, 122, 3860, 186, 1134), (697, 1155, 3860, 1224, 1940)]:
    rect(bg, x0 - 2, y0 - 2, x1 + 2, y2 + 3, '#c9c9c9', z=1)
    rect(bg, x0, y0, x1, y2, 'white', z=1)
    rect(bg, x0, y0, x1, y1, '#3776cb', z=2)
    shadow_below(bg, x0, y2, x1, n=4, z=1)

menu_icon(bg, 758, 795, [150, 161])
bg.plot([876, 890, 876], [144, 156, 168], color='white', lw=2.6, zorder=6)
bg.text(980, 157, 'overlap', family=UI, fontsize=34, color='white', va='center', zorder=6)
kebab_x(bg, 2055, [141, 154, 170], 2145, 2175, 142, 170)

menu_icon(bg, 2378, 2413, [150, 161])
bg.plot([2494, 2509, 2494], [144, 156, 168], color='white', lw=2.6, zorder=6)
bg.text(2598, 157, 'spread', family=UI, fontsize=34, color='white', va='center', zorder=6)
kebab_x(bg, 3675, [142, 155, 169], 3767, 3796, 142, 170)

menu_icon(bg, 760, 797, [1184, 1196])
bg.plot([890, 875, 890], [1179, 1192, 1205], color='white', lw=2.6, zorder=6)
rect(bg, 970, 1164, 1218, 1216, '#1976d2', z=5)
bg.text(986, 1190, 'scatterplot', family=UI, fontsize=34, color='white', va='center', zorder=6)
kebab_x(bg, 3675, [1178, 1191, 1205], 3767, 3796, 1177, 1207)

# colour legends
for i, c in enumerate(overlap_palette):
    rect(bg, 773 + i * 107.2, 238, 773 + (i + 1) * 107.2 - 2, 256, c, z=2)
for i, c in enumerate(spread_palette):
    rect(bg, 2386 + i * 107.5, 239, 2386 + (i + 1) * 107.5 - 2, 257, c, z=2)
for x, y, s in [(825, 272, '0'), (932, 272, '1'), (2110, 272, 'col max'), (2438, 273, '0'), (2545, 273, '1'), (3730, 273, 'col max')]:
    bg.text(x, y, s, family=NUM, fontsize=12, color='#222222', ha='center', va='center', zorder=3)

# overlap: equal height bins stacked per column, the lowest three are outlined
ax_a = px_axes(764, 317, 2168, 1099)
ax_a.set_xlim(0.508, 15.52)
ax_a.set_ylim(0, 1)
for col, levels in zip(overlap_cols, overlap_levels):
    n = len(levels)
    step = 1 / (n - 0.1)
    for b, lev in enumerate(levels):
        hl = b < 3
        rgba = matplotlib.colors.to_rgba(overlap_palette[lev], 1 if hl else 0.25)
        ax_a.bar(col, 0.9 * step, width=0.674, bottom=b * step, color=rgba,
                 edgecolor='#666666' if hl else 'none', linewidth=1.0 if hl else 0)
for s in ['top', 'left', 'right']:
    ax_a.spines[s].set_visible(False)
ax_a.spines['bottom'].set_color('#555555')
ax_a.spines['bottom'].set_linewidth(1.6)
ax_a.set_yticks([])
ax_a.set_xticks(overlap_cols)
ax_a.set_xticklabels(overlap_cols, family=NUM, fontsize=9.5, color='#222222')
ax_a.tick_params(axis='x', length=5, width=0.8, pad=3, color='#555555')

# spread: mirrored half columns per rank
ax_b = px_axes(2416, 295, 3785, 1105)
ax_b.set_xlim(0.448, 5.556)
ax_b.set_ylim(-1.13, 101.86)
half = 0.343
spread_all = [(spread_bands_1, spread_left_1, spread_right_1), (spread_bands_2, spread_left_2, spread_right_2),
              (spread_bands_3, spread_left_3, spread_right_3), (spread_bands_4, spread_left_4, spread_right_4),
              (spread_bands_5, spread_left_5, spread_right_5)]
for col, (bands, left, right) in zip(spread_cols, spread_all):
    lev = {}
    for lo, hi, l in bands:
        for r in range(lo, hi + 1):
            lev[r] = l
    for start, marked in [(col - half - 0.005, left), (col + 0.005, right)]:
        plain = [r for r in lev if r not in marked]
        ax_b.barh(plain, half, left=start, height=0.95, color=[spread_palette[lev[r]] for r in plain], alpha=0.5, zorder=2)
        ax_b.barh(marked, half, left=start, height=0.92, color=[spread_palette[lev.get(r, 1)] for r in marked],
                  edgecolor='#444444', linewidth=0.9, zorder=3)
    ax_b.axvline(col, color='#bdbdbd', lw=1.2, zorder=4)
ax_b.set_yticks(range(5, 101, 5))
ax_b.set_yticklabels(range(5, 101, 5), family=NUM, fontsize=9.5, color='#222222')
ax_b.set_xticks(spread_cols)
ax_b.set_xticklabels(spread_cols, family=NUM, fontsize=9.5, color='#222222')
ax_b.tick_params(axis='both', length=0, pad=3)
ax_b.tick_params(axis='x', pad=1)
ax_b.grid(axis='y', color='#cccccc', lw=0.9, ls=(0, (2, 2)))
ax_b.set_axisbelow(True)
for s in ['top', 'left', 'right']:
    ax_b.spines[s].set_visible(False)
ax_b.spines['bottom'].set_color('#444444')
ax_b.spines['bottom'].set_linewidth(1.2)


def scatter_panel(box, ylim, yticks, blue, orange, faint, marked):
    a = px_axes(*box)
    a.set_xlim(-60, 70)
    a.set_ylim(*ylim)
    a.scatter(orange[0], orange[1], s=92, color='#ff7f0e', alpha=0.88, linewidths=0, zorder=2)
    a.scatter(faint[0], faint[1], s=92, color='#1f77b4', alpha=0.5, linewidths=0, zorder=2)
    a.scatter(blue[0], blue[1], s=92, color='#1f77b4', alpha=0.93, linewidths=0, zorder=3)
    a.scatter(marked[0], marked[1], s=92, color='#1f77b4', edgecolors='#111111', linewidths=1.3, zorder=4)
    a.set_xticks(range(-60, 71, 10))
    a.set_yticks(yticks)
    a.tick_params(axis='both', length=6, width=1, labelsize=9, pad=2, color='#333333', labelcolor='#333333')
    for lab in a.get_xticklabels() + a.get_yticklabels():
        lab.set_family(NUM)
    for s in ['top', 'right']:
        a.spines[s].set_visible(False)
    for s in ['left', 'bottom']:
        a.spines[s].set_color('#333333')
        a.spines[s].set_linewidth(1.1)
    return a


scatter_panel((863.5, 1240.8, 2011, 1909.7), (-70, 60), range(-70, 61, 10),
              (left_blue_x + left_chain_x, left_blue_y + left_chain_y),
              (left_orange_x, left_orange_y), (left_faint_x, left_faint_y), left_marked)
scatter_panel((2527, 1238, 3676, 1908.7), (-60, 70), range(-60, 71, 10),
              (right_blue_x + right_chain_x, right_blue_y + right_chain_y),
              (right_orange_x, right_orange_y), (right_faint_x, right_faint_y), right_marked)

# orange call-outs on top of everything
top = fig.add_axes([0, 0, 1, 1], zorder=20)
top.set_xlim(0, W)
top.set_ylim(H, 0)
top.axis('off')
for cx, cy, s in [(1473, 164, 'A'), (3121, 164, 'B'), (2276, 1213, 'C')]:
    top.add_patch(Circle((cx, cy), 62, facecolor='#ee7c30', edgecolor='none'))
    top.text(cx, cy + 5, s, family=UI, fontsize=46, color='white', ha='center', va='center')
top.add_patch(Polygon([(2302, 867), (2290, 860), (2218, 972), (2185, 937), (2190, 1007), (2258, 992), (2232, 982)],
                      facecolor='#ee7c30', edgecolor='none'))

fig.savefig('out.png', dpi=100)
